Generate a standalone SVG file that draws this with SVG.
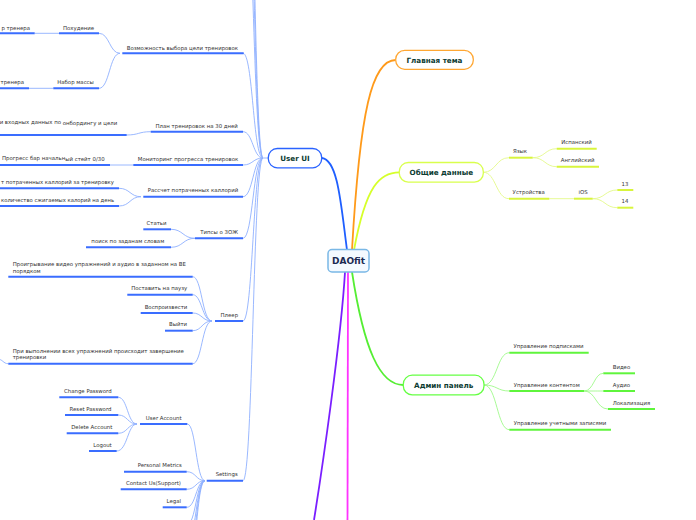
<svg xmlns="http://www.w3.org/2000/svg" width="696" height="520" viewBox="0 0 696 520">
<style>
.t{font-family:"DejaVu Sans","Liberation Sans",sans-serif;font-size:5.4px;fill:#333}
.m{text-anchor:middle}
.e{text-anchor:end}
.main{font-family:"DejaVu Sans","Liberation Sans",sans-serif;font-weight:bold;font-size:7.2px;fill:#0d3c32;text-anchor:middle}
.ub{stroke:#3a6dff;stroke-width:2;fill:none}
.cb{stroke:#8fb0ff;stroke-width:0.9;fill:none}
.uy{stroke:#d8f53c;stroke-width:2;fill:none}
.cy{stroke:#e4f98a;stroke-width:0.9;fill:none}
.ug{stroke:#5ff53c;stroke-width:2;fill:none}
.cg{stroke:#9ff98a;stroke-width:0.9;fill:none}
.box{fill:#fff;stroke-width:1.3}
</style>
<rect width="696" height="520" fill="#fff"/>
<g id="connectors">
<path d="M322,158 C338,160 341,205 347,250" stroke="#1f5fff" stroke-width="1.8" fill="none"/>
<path d="M352,250 C360,110 372,60 395.7,60" stroke="#ff9a1a" stroke-width="1.8" fill="none"/>
<path d="M354,250 C366,185 380,172.3 399.3,172.3" stroke="#d6ff2a" stroke-width="1.8" fill="none"/>
<path d="M352,272 C364,350 380,385 403.3,385" stroke="#55ee33" stroke-width="1.8" fill="none"/>
<path d="M345,272 C341,340 322,470 314,520" stroke="#7a1fff" stroke-width="1.8" fill="none"/>
<path d="M348,272 L347.5,520" stroke="#ff33ff" stroke-width="1.8" fill="none"/>
<path class="cb" d="M268.3,158 H263"/>
<path class="cb" d="M263,158 C253,158 253,53.3 243,53.3"/>
<path class="cb" d="M263,158 C253,158 253,131.7 243,131.7"/>
<path class="cb" d="M263,158 C253,158 253,165 243,165"/>
<path class="cb" d="M263,158 C253,158 253,196.7 243,196.7"/>
<path class="cb" d="M263,158 C253,158 253,238.3 243,238.3"/>
<path class="cb" d="M263,158 C253,158 253,321 243,321"/>
<path class="cb" d="M263,158 C253,158 253,480.7 243,480.7"/>
<path class="cb" d="M263,158 C253,158 253,-150 243,-150"/>
<path class="cb" d="M263,158 C253,158 253,-250 243,-250"/>
<path class="cb" d="M263,158 C253,158 253,-350 243,-350"/>
<path class="cb" d="M120,53.3 C109.5,53.3 109.5,33.3 99,33.3"/>
<path class="cb" d="M120,53.3 C109.5,53.3 109.5,88.3 99,88.3"/>
<path class="cb" d="M59,33.3 H34.7"/>
<path class="cb" d="M53.3,88.3 H29"/>
<path class="cb" d="M150.7,131.7 C138.7,131.7 138.7,135 126.7,135"/>
<path class="cb" d="M133.3,165 H110"/>
<path class="cb" d="M141,196.7 C130,196.7 130,188.3 119,188.3"/>
<path class="cb" d="M141,196.7 C130,196.7 130,206 119,206"/>
<path class="cb" d="M195,238.3 C183,238.3 183,229.3 171,229.3"/>
<path class="cb" d="M195,238.3 C183,238.3 183,247.3 171,247.3"/>
<path class="cb" d="M212,321 C202,321 202,276.7 192.7,276.7"/>
<path class="cb" d="M212,321 C202,321 202,294.7 192.7,294.7"/>
<path class="cb" d="M212,321 C202,321 202,313 192.7,313"/>
<path class="cb" d="M212,321 C202,321 202,330.7 192.7,330.7"/>
<path class="cb" d="M212,321 C202,321 202,363.7 192.7,363.7"/>
<path class="cb" d="M8.3,363.7 C3,363.7 3,359 -3,359"/>
<path class="cb" d="M205,480.7 C196,480.7 196,424 187.3,424"/>
<path class="cb" d="M205,480.7 C196,480.7 196,471.7 186.7,471.7"/>
<path class="cb" d="M205,480.7 C196,480.7 196,489.3 186.7,489.3"/>
<path class="cb" d="M205,480.7 C196,480.7 196,507.3 186.7,507.3"/>
<path class="cb" d="M205,480.7 C196,480.7 196,525 186.7,525"/>
<path class="cb" d="M205,480.7 C196,480.7 196,543 186.7,543"/>
<path class="cb" d="M205,480.7 C196,480.7 196,561 186.7,561"/>
<path class="cb" d="M205,480.7 C196,480.7 196,579 186.7,579"/>
<path class="cb" d="M137,424 C127.5,424 127.5,397.3 118.3,397.3"/>
<path class="cb" d="M137,424 C127.5,424 127.5,415 118.3,415"/>
<path class="cb" d="M137,424 C127.5,424 127.5,433.3 118.3,433.3"/>
<path class="cb" d="M137,424 C127.5,424 127.5,451 116.7,451"/>
<path class="cy" d="M483.3,172.3 C496,172.3 496,157.7 509,157.7"/>
<path class="cy" d="M483.3,172.3 C496,172.3 496,198.7 509,198.7"/>
<path class="cy" d="M532.7,157.7 C545,157.7 545,148.7 556.7,148.7"/>
<path class="cy" d="M532.7,157.7 C545,157.7 545,166.7 556.7,166.7"/>
<path class="cy" d="M549.3,198.7 H574"/>
<path class="cy" d="M592.7,198.7 C605,198.7 605,190 617.3,190"/>
<path class="cy" d="M592.7,198.7 C605,198.7 605,207.7 617.3,207.7"/>
<path class="cg" d="M484,385 C497,385 497,352.7 509.3,352.7"/>
<path class="cg" d="M484,385 C497,385 497,391 509.3,391"/>
<path class="cg" d="M484,385 C497,385 497,429.7 509.3,429.7"/>
<path class="cg" d="M584,391 C594,391 594,373.3 603.3,373.3"/>
<path class="cg" d="M584,391 C594,391 594,391 603.3,391"/>
<path class="cg" d="M584,391 C596,391 596,409 608,409"/>
</g>

<g id="node-daofit">
<rect x="328" y="249.5" width="41" height="22.5" rx="4" fill="#f4faff" stroke="#7ab8e6" stroke-width="1.5"/>
<text x="348.5" y="264.3" font-family="DejaVu Sans, sans-serif" font-weight="bold" font-size="9" fill="#1b2a52" text-anchor="middle">DAOfit</text>
</g>
<g id="node-userui">
<rect class="box" x="268.3" y="148.5" width="53.4" height="19.3" rx="9" stroke="#2a63ff"/>
<text class="main" x="295" y="160.7">User UI</text>
</g>
<g id="node-main-topic">
<rect class="box" x="395.7" y="50.3" width="77.6" height="19" rx="9" stroke="#ffa733"/>
<text class="main" x="434.5" y="62.6">Главная тема</text>
</g>
<g id="node-common">
<rect class="box" x="399.3" y="162.5" width="84" height="19.7" rx="9" stroke="#d9ff4d"/>
<text class="main" x="441.3" y="175">Общие данные</text>
</g>
<g id="node-admin">
<rect class="box" x="403.3" y="375.2" width="80.7" height="19.7" rx="9" stroke="#66ff44"/>
<text class="main" x="443.7" y="387.6">Админ панель</text>
</g>

<g id="node-goal"><path class="ub" d="M122.3,53.3 H243.7"/><text class="t m" x="182.4" y="50">Возможность выбора цели тренировок</text></g>
<g id="node-weightloss"><path class="ub" d="M59,33.3 H99"/><text class="t m" x="78.5" y="29.5">Похудение</text></g>
<g id="node-weightloss-coach"><path class="ub" d="M-5,33.3 H34.7"/><text class="t e" x="30" y="29.5">р тренера</text></g>
<g id="node-mass"><path class="ub" d="M53.3,88.3 H99"/><text class="t m" x="75.5" y="84">Набор массы</text></g>
<g id="node-mass-coach"><path class="ub" d="M-5,88.3 H29"/><text class="t e" x="24" y="84">тренера</text></g>
<g id="node-plan"><path class="ub" d="M150.7,131.7 H243"/><text class="t m" x="196.7" y="127.5">План тренировок на 30 дней</text></g>
<g id="node-plan-gen"><path class="ub" d="M-5,135 H126.7"/><text class="t" y="123.5"><tspan x="61" text-anchor="end">и входных данных по</tspan><tspan x="62.7" y="125">онбордингу и цели</tspan></text></g>
<g id="node-monitor"><path class="ub" d="M133.3,165 H243"/><text class="t m" x="188" y="160.7">Мониторинг прогресса тренировок</text></g>
<g id="node-progress"><path class="ub" d="M-5,165 H110"/><text class="t" x="2" y="159.5">Прогресс бар начальн<tspan y="161">ый стейт 0/30</tspan></text></g>
<g id="node-calories"><path class="ub" d="M143.3,196.7 H243"/><text class="t m" x="193" y="192.4">Рассчет потраченных каллорий</text></g>
<g id="node-cal-workout"><path class="ub" d="M-5,188.3 H119"/><text class="t" x="1" y="184" textLength="113" lengthAdjust="spacingAndGlyphs">т потраченных каллорий за тренировку</text></g>
<g id="node-cal-day"><path class="ub" d="M-5,206 H119"/><text class="t" x="1" y="201.7" textLength="113" lengthAdjust="spacingAndGlyphs">количество сжигаемых калорий на день</text></g>
<g id="node-tips"><path class="ub" d="M195,238.3 H243"/><text class="t m" x="219.2" y="234">Типсы о ЗОЖ</text></g>
<g id="node-articles"><path class="ub" d="M143.3,229.3 H171"/><text class="t m" x="156.5" y="225">Статьи</text></g>
<g id="node-search"><path class="ub" d="M86,247.3 H171"/><text class="t m" x="127.8" y="243">поиск по заданам словам</text></g>
<g id="node-player"><path class="ub" d="M215,321 H243"/><text class="t m" x="229.3" y="316.7">Плеер</text></g>
<g id="node-play"><path class="ub" d="M8.3,276.7 H192.7"/><text class="t" x="12.7" y="266">Проигрывание видео упражнений и аудио в заданном на BE<tspan x="12.7" y="272.5">порядком</tspan></text></g>
<g id="node-pause"><path class="ub" d="M127.3,294.7 H192.7"/><text class="t m" x="159.2" y="290.4">Поставить на паузу</text></g>
<g id="node-resume"><path class="ub" d="M140.7,313 H192.7"/><text class="t m" x="166" y="308.7">Воспроизвести</text></g>
<g id="node-exit"><path class="ub" d="M165,330.7 H192.7"/><text class="t m" x="178" y="326.4">Выйти</text></g>
<g id="node-finish"><path class="ub" d="M8.3,363.7 H192.7"/><text class="t" x="12.7" y="353">При выполнении всех упражнений происходит завершение<tspan x="12.7" y="359.4">тренировки</tspan></text></g>
<g id="node-settings"><path class="ub" d="M206.7,480.7 H243"/><text class="t m" x="226.7" y="476.4">Settings</text></g>
<g id="node-account"><path class="ub" d="M140,424 H187.3"/><text class="t m" x="163.7" y="419.7">User Account</text></g>
<g id="node-change-pw"><path class="ub" d="M59.3,397.3 H118.3"/><text class="t m" x="87.8" y="393">Change Password</text></g>
<g id="node-reset-pw"><path class="ub" d="M65,415 H118.3"/><text class="t m" x="90.5" y="410.7">Reset Password</text></g>
<g id="node-delete"><path class="ub" d="M66.7,433.3 H118.3"/><text class="t m" x="91.8" y="429">Delete Account</text></g>
<g id="node-logout"><path class="ub" d="M89,451 H116.7"/><text class="t m" x="102.5" y="446.7">Logout</text></g>
<g id="node-metrics"><path class="ub" d="M124,471.7 H186.7"/><text class="t m" x="159.8" y="467.4">Personal Metrics</text></g>
<g id="node-contact"><path class="ub" d="M120.7,489.3 H186.7"/><text class="t m" x="153.5" y="485">Contact Us(Support)</text></g>
<g id="node-legal"><path class="ub" d="M162.7,507.3 H186.7"/><text class="t m" x="173.8" y="503">Legal</text></g>

<g id="node-lang"><path class="uy" d="M509,157.7 H532.7"/><text class="t m" x="520" y="153.4">Язык</text></g>
<g id="node-es"><path class="uy" d="M556.7,148.7 H596.7"/><text class="t m" x="576.5" y="144.4">Испанский</text></g>
<g id="node-en"><path class="uy" d="M556.7,166.7 H599"/><text class="t m" x="577.7" y="162.4">Английский</text></g>
<g id="node-devices"><path class="uy" d="M509,198.7 H549.3"/><text class="t m" x="528.7" y="194.4">Устройства</text></g>
<g id="node-ios"><path class="uy" d="M574,198.7 H592.7"/><text class="t m" x="583.2" y="194.4">iOS</text></g>
<g id="node-13"><path class="uy" d="M617.3,190 H633.3"/><text class="t m" x="625" y="185.7">13</text></g>
<g id="node-14"><path class="uy" d="M617.3,207.7 H633.3"/><text class="t m" x="625" y="203.4">14</text></g>

<g id="node-subs"><path class="ug" d="M509.3,352.7 H588.7"/><text class="t m" x="548.5" y="348.4">Управление подписками</text></g>
<g id="node-content"><path class="ug" d="M509.3,391 H584"/><text class="t m" x="546.7" y="386.7">Управление контентом</text></g>
<g id="node-accounts"><path class="ug" d="M509.3,429.7 H611"/><text class="t m" x="560" y="425.4">Управление учетными записями</text></g>
<g id="node-video"><path class="ug" d="M603.3,373.3 H635"/><text class="t" x="612.7" y="369">Видео</text></g>
<g id="node-audio"><path class="ug" d="M603.3,391 H635"/><text class="t" x="612.7" y="386.7">Аудио</text></g>
<g id="node-loc"><path class="ug" d="M608,409 H655"/><text class="t" x="612.7" y="404.7">Локализация</text></g>
</svg>
